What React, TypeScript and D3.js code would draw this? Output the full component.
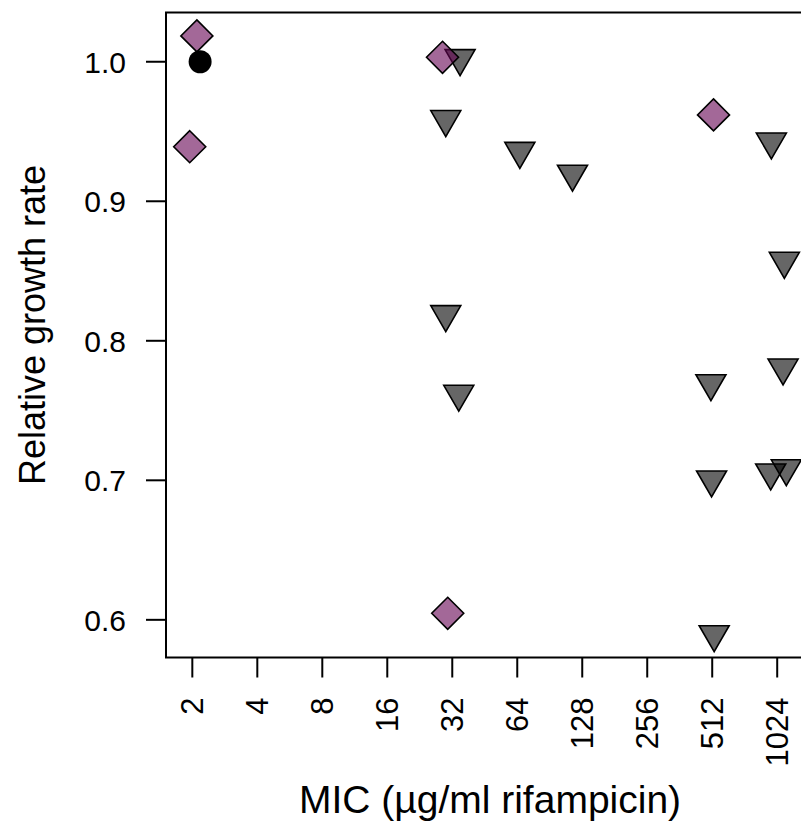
import React from "react";
import * as d3 from "d3";

// MIC tick values (µg/ml rifampicin)
const micTicks = [2, 4, 8, 16, 32, 64, 128, 256, 512, 1024];
const growthTicks = [0.6, 0.7, 0.8, 0.9, 1.0];

// Purple diamonds
const diamondMic = [2, 2, 32, 512, 32];
const diamondJitter = [0.07, -0.04, -0.15, 0.02, -0.07];
const diamondGrowth = [1.0185, 0.9391, 1.0032, 0.9619, 0.6047];

// Grey triangles
const triMic = [32, 32, 64, 128, 1024, 1024, 32, 32, 512, 1024, 512, 1024, 1024, 512];
const triJitter = [0.12, -0.1, 0.04, -0.15, -0.09, 0.11, -0.1, 0.1, -0.02, 0.09, -0.01, -0.1, 0.14, 0.03];
const triGrowth = [1.0025, 0.9588, 0.936, 0.9196, 0.9427, 0.8572, 0.819, 0.7619, 0.7695, 0.7807, 0.7005, 0.7055, 0.7085, 0.5896];

// Reference (black circle)
const refMic = [2];
const refJitter = [0.12];
const refGrowth = [1.0];

const W = 801;
const H = 832;
const left = 166;
const right = 811;
const top = 12.5;
const bottom = 657.5;
const FONT = "'Liberation Sans', Arial, Helvetica, sans-serif";

export default function App() {
  const x = d3.scaleLog().base(2).domain([Math.pow(2, 0.595), Math.pow(2, 10.52)]).range([left, right]);
  const y = d3.scaleLinear().domain([0.573, 1.0353]).range([bottom, top]);
  const jx = (m: number, j: number) => x(m * Math.pow(2, j));

  const triR = 17.3;
  const triYc = 8.66;
  const triXc = 15;
  const triPath = (cx: number, cy: number) =>
    `M${cx - triXc},${cy - triYc}L${cx + triXc},${cy - triYc}L${cx},${cy + triR}Z`;
  const dR = 16;
  const diaPath = (cx: number, cy: number) =>
    `M${cx},${cy - dR}L${cx + dR},${cy}L${cx},${cy + dR}L${cx - dR},${cy}Z`;

  return (
    <svg width={W} height={H} style={{ position: "absolute", left: 0, top: 0, background: "#fff" }} fontFamily={FONT}>
      <rect x={0} y={0} width={W} height={H} fill="#fff" />
      {/* plot box */}
      <rect x={left} y={top} width={right - left} height={bottom - top} fill="none" stroke="#000" strokeWidth={2} />
      {/* y axis */}
      {growthTicks.map((t) => (
        <g key={"y" + t}>
          <line x1={left - 20} x2={left} y1={y(t)} y2={y(t)} stroke="#000" strokeWidth={2} />
          <text x={left - 40} y={y(t)} dy="0.36em" textAnchor="end" fontSize={30}>
            {t.toFixed(1)}
          </text>
        </g>
      ))}
      {/* x axis */}
      {micTicks.map((t) => (
        <g key={"x" + t}>
          <line x1={x(t)} x2={x(t)} y1={bottom} y2={bottom + 20} stroke="#000" strokeWidth={2} />
          <text
            transform={`translate(${x(t)},${bottom + 40}) rotate(-90)`}
            dy="0.36em"
            textAnchor="end"
            fontSize={31}
          >
            {t}
          </text>
        </g>
      ))}
      {/* titles */}
      <text x={490} y={813} textAnchor="middle" fontSize={39}>
        MIC (µg/ml rifampicin)
      </text>
      <text transform={`translate(45,325) rotate(-90)`} textAnchor="middle" fontSize={36}>
        Relative growth rate
      </text>
      {/* points */}
      {triMic.map((m, i) => (
        <path key={"t" + i} d={triPath(jx(m, triJitter[i]), y(triGrowth[i]))} fill="rgba(0,0,0,0.6)" stroke="#000" strokeWidth={1.6} />
      ))}
      {diamondMic.map((m, i) => (
        <path key={"d" + i} d={diaPath(jx(m, diamondJitter[i]), y(diamondGrowth[i]))} fill="rgba(102,3,83,0.6)" stroke="#000" strokeWidth={1.6} />
      ))}
      {refMic.map((m, i) => (
        <circle key={"c" + i} cx={jx(m, refJitter[i])} cy={y(refGrowth[i])} r={11.5} fill="#000" />
      ))}
    </svg>
  );
}
